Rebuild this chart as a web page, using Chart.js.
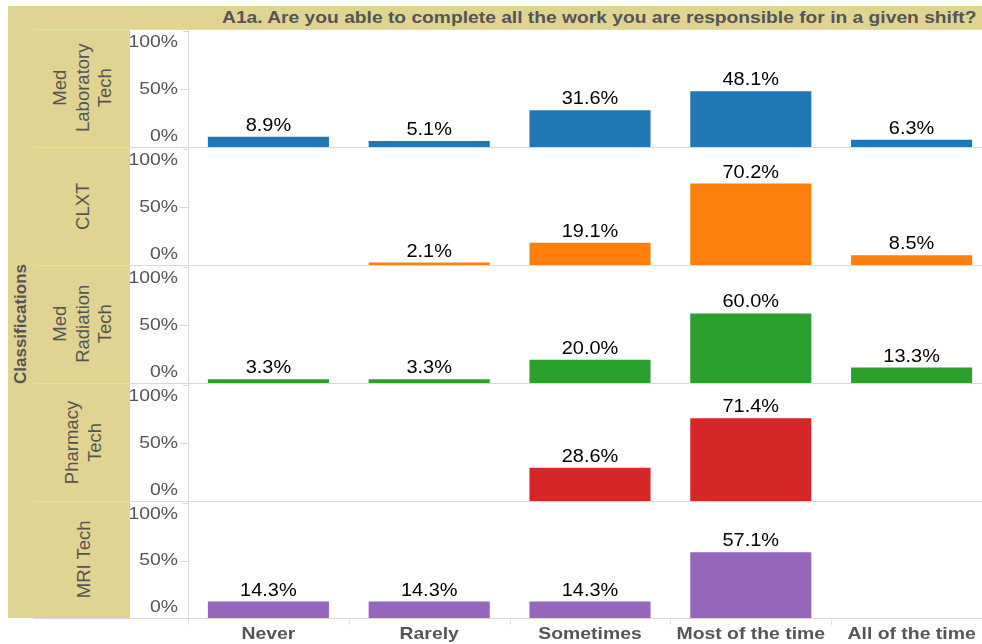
<!DOCTYPE html>
<html>
<head>
<meta charset="utf-8">
<script src="https://cdn.jsdelivr.net/npm/chart.js@4"></script>
<style>
  html, body { margin: 0; padding: 0; background: #fff; }
  body { width: 982px; height: 644px; position: relative; overflow: hidden;
         font-family: "Liberation Sans", Arial, sans-serif; color: #555; }
  .khaki { position: absolute; background: #e0d493; }
  .title { position: absolute; left: 222px; top: 8px; font-weight: bold; font-size: 16.5px;
           white-space: nowrap; transform: scaleX(1.165); transform-origin: left center; }
  .outer-label { position: absolute; left: 8px; top: 29px; width: 25px; height: 589px;
                 display: flex; align-items: center; justify-content: center; }
  .outer-label span { transform: rotate(-90deg); font-weight: bold; font-size: 17px; white-space: nowrap; }
  .row-label { position: absolute; left: 35px; width: 97px; display: flex;
               align-items: center; justify-content: center; }
  .row-label span { transform: rotate(-90deg); font-size: 18.5px; line-height: 22.5px;
                    text-align: center; white-space: pre; }
  .rule { position: absolute; background: #d9d9d9; z-index: 2; }
  canvas.row { position: absolute; left: 130px; }
</style>
</head>
<body>
<div class="khaki" style="left:8px;top:6px;width:974px;height:23px"></div>
<div class="khaki" style="left:8px;top:29px;width:122px;height:589px"></div>
<div class="title">A1a. Are you able to complete all the work you are responsible for in a given shift?</div>
<div class="outer-label"><span>Classifications</span></div>
<div id="rows"></div>

<script>
// answer categories along the bottom
const CATEGORIES = ["Never", "Rarely", "Sometimes", "Most of the time", "All of the time"];

// share of respondents (%) per classification, null = no responses
const medLabTech = [8.9, 5.1, 31.6, 48.1, 6.3];
const clxt = [null, 2.1, 19.1, 70.2, 8.5];
const medRadTech = [3.3, 3.3, 20.0, 60.0, 13.3];
const pharmacyTech = [null, null, 28.6, 71.4, null];
const mriTech = [14.3, 14.3, 14.3, 57.1, null];

const ROW_NAMES = ["Med\nLaboratory\nTech", "CLXT", "Med\nRadiation\nTech", "Pharmacy\nTech", "MRI Tech"];
const ROW_VALUES = [medLabTech, clxt, medRadTech, pharmacyTech, mriTech];
const ROW_COLORS = ["#1f77b4", "#ff7f0e", "#2ca02c", "#d62728", "#9467bd"];
const Y_TICKS = [0, 50, 100];
const Y_TICK_LABELS = ["0%", "50%", "100%"];

// layout
const ROW_TOPS = [29, 147, 265, 383, 501];
const ROW_BOTTOM = 618;
const AXIS_W = 58;     // space for the y tick labels left of the axis line
const X_LABEL_H = 26;  // category labels under the last row
const STRETCH = 1.14;  // horizontal text width factor
const GRID = "#d9d9d9";
const FONT = '"Liberation Sans", Arial, sans-serif';

function wideText(ctx, text, x, y) {
  ctx.save();
  ctx.translate(x, y);
  ctx.scale(STRETCH, 1);
  ctx.fillText(text, 0, 0);
  ctx.restore();
}

// y axis ticks + labels, value labels above bars, category labels on the last row
const rowDecor = {
  id: "rowDecor",
  afterDatasetsDraw(chart, args, opts) {
    const { ctx, chartArea } = chart;
    const y = chart.scales.y;
    const x = chart.scales.x;
    ctx.save();

    // tick marks left of the axis line
    ctx.strokeStyle = GRID;
    ctx.lineWidth = 1;
    Y_TICKS.forEach((v) => {
      const py = Math.round(y.getPixelForValue(v)) + 0.5;
      const len = v === 50 ? 8 : 5;
      ctx.beginPath();
      ctx.moveTo(chartArea.left - len, py);
      ctx.lineTo(chartArea.left, py);
      ctx.stroke();
    });

    // tick labels, end ticks pulled inward
    ctx.fillStyle = "#555";
    ctx.font = "17px " + FONT;
    ctx.textAlign = "right";
    ctx.textBaseline = "middle";
    Y_TICKS.forEach((v, i) => {
      let py = y.getPixelForValue(v);
      if (v === 100) py += 11;
      if (v === 0) py -= 11;
      wideText(ctx, Y_TICK_LABELS[i], chartArea.left - 10, py);
    });

    // value labels
    const vals = chart.data.datasets[0].data;
    const bars = chart.getDatasetMeta(0).data;
    ctx.fillStyle = "#000";
    ctx.font = "17.5px " + FONT;
    ctx.textAlign = "center";
    ctx.textBaseline = "alphabetic";
    bars.forEach((bar, i) => {
      if (vals[i] == null) return;
      wideText(ctx, vals[i].toFixed(1) + "%", bar.x, bar.y - 6);
    });

    if (opts.showCategories) {
      const step = x.getPixelForValue(1) - x.getPixelForValue(0);
      ctx.strokeStyle = "#e2e2e2";
      CATEGORIES.forEach((c, i) => {
        const px = Math.round(x.getPixelForValue(i) - step / 2) + 0.5;
        ctx.beginPath();
        ctx.moveTo(px, chartArea.bottom + 1);
        ctx.lineTo(px, chartArea.bottom + 7);
        ctx.stroke();
      });
      ctx.fillStyle = "#555";
      ctx.font = "bold 17px " + FONT;
      ctx.textBaseline = "middle";
      CATEGORIES.forEach((c, i) => {
        wideText(ctx, c, x.getPixelForValue(i), chartArea.bottom + 16);
      });
    }
    ctx.restore();
  },
};

const rowsEl = document.getElementById("rows");

ROW_VALUES.forEach((values, r) => {
  const top = ROW_TOPS[r];
  const bottom = r < ROW_TOPS.length - 1 ? ROW_TOPS[r + 1] : ROW_BOTTOM;
  const isLast = r === ROW_VALUES.length - 1;

  const label = document.createElement("div");
  label.className = "row-label";
  label.style.top = top + "px";
  label.style.height = bottom - top + "px";
  label.innerHTML = "<span></span>";
  label.firstChild.textContent = ROW_NAMES[r];
  rowsEl.appendChild(label);

  const canvas = document.createElement("canvas");
  canvas.className = "row";
  canvas.width = 862;
  canvas.height = bottom - top + (isLast ? X_LABEL_H : 0);
  canvas.style.top = top + "px";
  rowsEl.appendChild(canvas);

  new Chart(canvas, {
    type: "bar",
    data: {
      labels: CATEGORIES,
      datasets: [
        {
          data: values,
          backgroundColor: ROW_COLORS[r],
          barPercentage: 0.753,
          categoryPercentage: 1,
        },
      ],
    },
    options: {
      responsive: false,
      animation: false,
      layout: { padding: { left: AXIS_W, top: 2, right: 0, bottom: isLast ? X_LABEL_H : 0 } },
      plugins: {
        legend: { display: false },
        tooltip: { enabled: false },
        rowDecor: { showCategories: isLast },
      },
      scales: {
        x: { display: false },
        y: { display: false, min: 0, max: 100 },
      },
    },
    plugins: [rowDecor],
  });

  // horizontal rule at the top of each row
  const rule = document.createElement("div");
  rule.className = "rule";
  rule.style.cssText += `left:33px;top:${top}px;width:949px;height:1px`;
  rowsEl.appendChild(rule);
});

// bottom rule and vertical axis line
const bottomRule = document.createElement("div");
bottomRule.className = "rule";
bottomRule.style.cssText += `left:33px;top:${ROW_BOTTOM}px;width:949px;height:1px`;
rowsEl.appendChild(bottomRule);

const axisLine = document.createElement("div");
axisLine.className = "rule";
axisLine.style.cssText += `left:188px;top:29px;width:1px;height:${ROW_BOTTOM - 29}px`;
rowsEl.appendChild(axisLine);
</script>
</body>
</html>
